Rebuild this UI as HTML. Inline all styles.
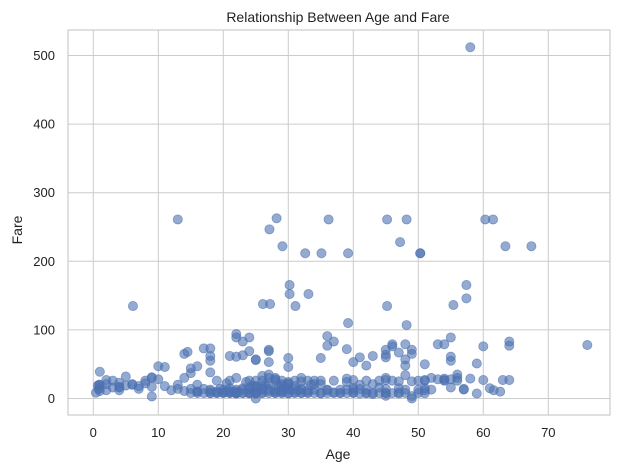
<!DOCTYPE html>
<html><head><meta charset="utf-8"><style>
body{margin:0;background:#fff;}
svg{display:block;font-family:"Liberation Sans","DejaVu Sans",sans-serif;}
</style></head><body>
<svg id="chart" width="621" height="473">
<text x="338" y="22" text-anchor="middle" font-size="14" fill="#222">Relationship Between Age and Fare</text>
<g id="grid"></g>
<g id="points"></g>
<text x="338" y="459" text-anchor="middle" font-size="14" fill="#222">Age</text>
<text transform="translate(22,230) rotate(-90)" text-anchor="middle" font-size="14" fill="#222">Fare</text>
</svg>
<script>
const xTicks=[0,10,20,30,40,50,60,70];
const yTicks=[0,100,200,300,400,500];
const ages=[58,13,28.2,27.1,29.1,32.6,35.1,36.2,39.2,45.2,47.2,48.2,50.3,50.3,60.3,61.5,63.4,67.4,6.1,26.1,27.2,30.2,30.2,31.1,33.1,39.2,45.2,48.2,55.4,57.4,57.4,
0.4,0.7,0.8,0.9,1,1,1,1,2,2,2,3,3,4,4,4,4,5,5,6,6,7,7,8,8,9,9,9,9,10,10,11,11,12,13,13,14,14,14,14.5,15,15,15,15,16,16,16,17,18,18,18,18,21,22,22,22,23,23,24,24,25,25,27,27,27,30,30,35,36,36,37,39,40,41,42,43,45,45,45,46,46,47,48,48,48,49,49,51,53,54,55,55,55,60,59,64,64,76,54,55,60,57,61,61.6,62.6,63,64,49,51,51,
16,16,17,17,18,18,18,18,19,19,19,19,20,20,20,20,21,21,21,21,21,21,22,22,22,22,22,22,22,23,23,23,23,24,24,24,24,24,24,25,25,25,25,25,25,25,26,26,26,26,26,26,27,27,27,27,27,28,28,28,28,28,28,29,29,29,29,29,29,30,30,30,30,30,30,31,31,31,31,31,32,32,32,32,32,33,33,33,33,34,34,34,34,35,35,35,35,36,36,36,37,37,37,38,38,38,39,39,39,39,40,40,40,40,40,41,41,41,42,42,42,42,43,43,43,44,44,44,45,45,45,45,45,46,46,47,47,47,47,48,48,48,49,49,50,50,50,51,51,51,52,52,53,54,54,55,56,56,58,59,56,57,45,26.5,28.5,23.5,29.5,31.5,20.5,24.5,33.5,19.5,28,30,32,25,29,27,26];
const fares=[512,261,262.7,246.6,221.9,211.7,211.7,261,211.7,261,228,261,211.7,211.7,261,261,222,222,134.8,137.7,137.7,165.4,152.3,134.8,152.3,110,134.8,107,136.3,146,165.4,
8.5,19,14,20,11,20,15,39,21,27,12,16,26,12,17,23,16,19,32,20,21,14,18,22,26,30,3,31,17,28,47,18,46,12,14,20,11,30,65,68,8,14,44,37,47,20,10,73,73,62,55,38,62,61,94,89,83,63,89,69,57,56,69,53,71,59,46,59,91,77,83,72,53,60,48,62,71,64,60,79,76,67,79,57,48,71,65,50,79,79,89,61,55,76,51,83,77,78,29,28,27,14,15,12,10,27,27,3.5,27,15,
8,10,7.8,14,8,11,7.7,13,7.9,8,10,26,7.9,9,8.5,13,7.8,8,9.5,11,26,15,7.3,7.9,9,10.5,13,7.2,30,7.9,13,8,15,7.5,8,13,16,26,7.9,7.3,7.9,13,17,26,0,8,7.8,8,13,18,26,14,7.9,11,14,22,30,7.9,8,13,10,26,30,7.7,9,10.5,13,26,21,7.2,8,13,15,24,21,7.8,9,18,13,26,7.9,8,13,15,30,7.8,9,12,26,8,13,21,26,7.1,8,26,21,7.9,13,12,7.9,26,9,7.9,13,8,7.9,13,24,29,7.9,9,13,15.5,27,7.1,14,20,7.6,13,26,8,6.5,8,21,8,16,26,7.8,8,14,27,30,7.9,26,7.2,9,15,25,8,13,34,0,25,8,13,26,7.6,12,26,13,30,28,27,26,16,26,30,29,7.3,35,13,4,20,18,24,16,12,22,19,20,14,28,22,25,18,19,35,33];
const X0=68,X1=610,Y0=30,Y1=415;
function xs(a){return 93.3+a*6.5;}
function ys(f){return 398.5-f*0.686;}
const NS="http://www.w3.org/2000/svg";
const grid=document.getElementById('grid');
const svg=document.getElementById('chart');
xTicks.forEach(t=>{
  const l=document.createElementNS(NS,'line');
  l.setAttribute('x1',xs(t));l.setAttribute('x2',xs(t));l.setAttribute('y1',Y0);l.setAttribute('y2',Y1);
  l.setAttribute('stroke','#cccccc');l.setAttribute('stroke-width','1');
  
  
  grid.appendChild(l);
  const tx=document.createElementNS(NS,'text');
  tx.setAttribute('x',xs(t));tx.setAttribute('y',437);tx.setAttribute('text-anchor','middle');
  tx.setAttribute('font-size','13');tx.setAttribute('fill','#222');tx.textContent=t;
  
  
  svg.appendChild(tx);
});
yTicks.forEach(t=>{
  const l=document.createElementNS(NS,'line');
  l.setAttribute('x1',X0);l.setAttribute('x2',X1);l.setAttribute('y1',ys(t));l.setAttribute('y2',ys(t));
  l.setAttribute('stroke','#cccccc');l.setAttribute('stroke-width','1');
  
  
  grid.appendChild(l);
  const tx=document.createElementNS(NS,'text');
  tx.setAttribute('x',55);tx.setAttribute('y',ys(t)+4.5);tx.setAttribute('text-anchor','end');
  tx.setAttribute('font-size','13');tx.setAttribute('fill','#222');tx.textContent=t;
  
  
  svg.appendChild(tx);
});
const fr=document.createElementNS(NS,'rect');
fr.setAttribute('x',X0);fr.setAttribute('y',Y0);fr.setAttribute('width',X1-X0);fr.setAttribute('height',Y1-Y0);
fr.setAttribute('fill','none');fr.setAttribute('stroke','#cccccc');fr.setAttribute('stroke-width','1.2');


grid.appendChild(fr);
const pts=document.getElementById('points');
for(let i=0;i<ages.length&&i<fares.length;i++){
  const c=document.createElementNS(NS,'circle');
  c.setAttribute('cx',xs(ages[i]));c.setAttribute('cy',ys(fares[i]));c.setAttribute('r',4.6);
  c.setAttribute('fill','#4c72b0');c.setAttribute('fill-opacity','0.6');
  c.setAttribute('stroke','#4c72b0');c.setAttribute('stroke-opacity','0.6');c.setAttribute('stroke-width','0.8');
  
  
  pts.appendChild(c);
}
</script>
</body></html>
